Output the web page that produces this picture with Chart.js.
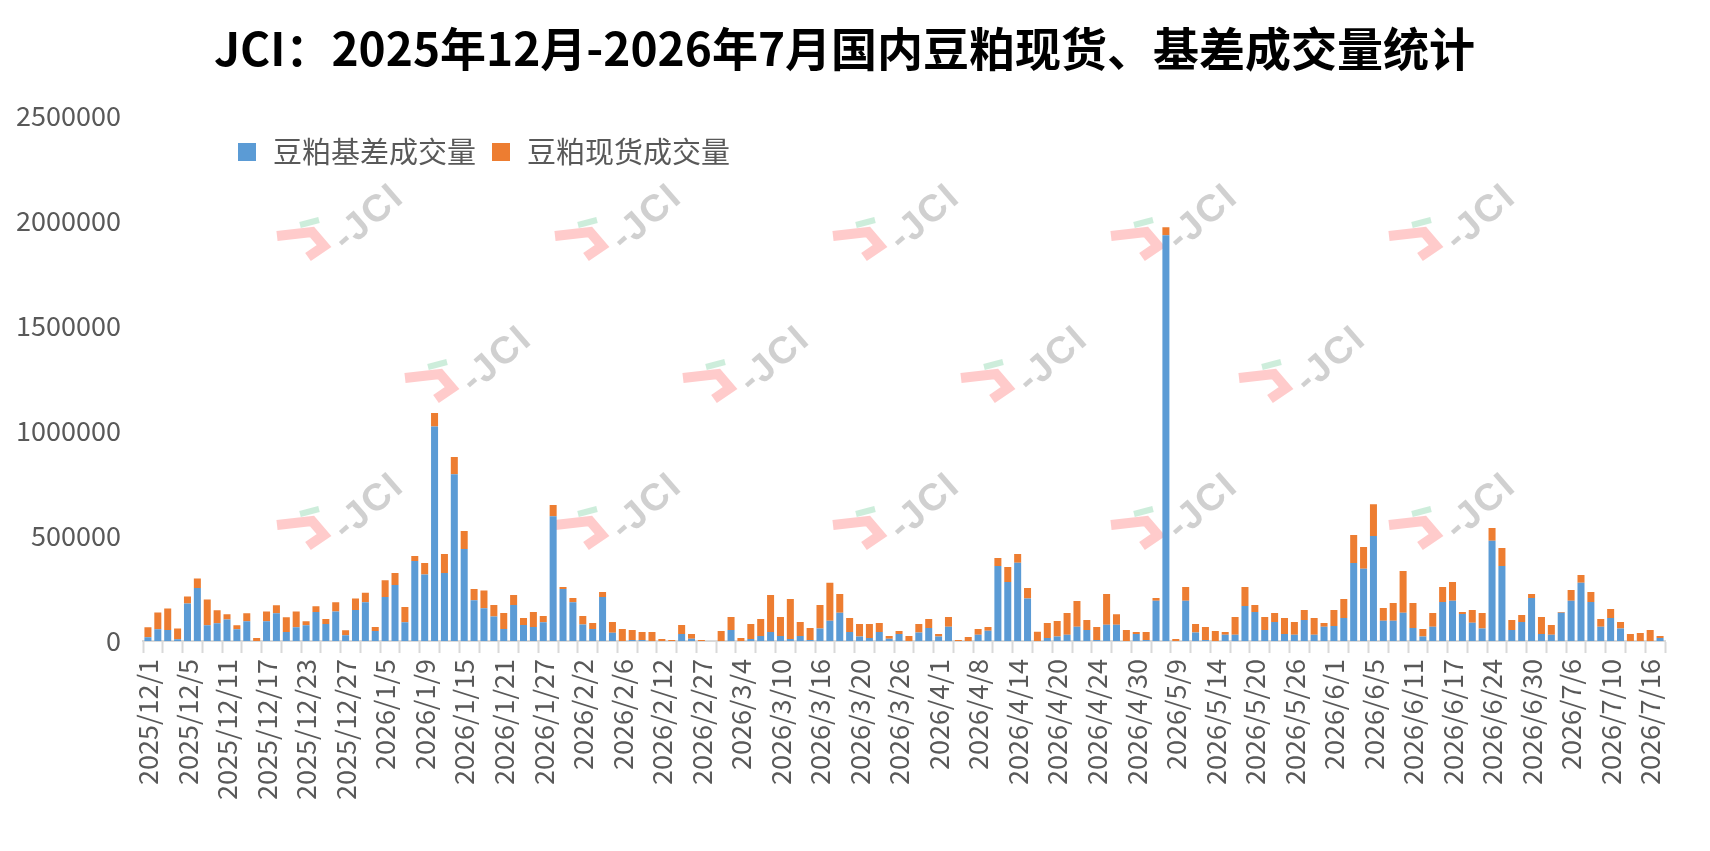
<!DOCTYPE html>
<html>
<head>
<meta charset="utf-8">
<script src="https://cdn.jsdelivr.net/npm/chart.js@4.4.1/dist/chart.umd.min.js"></script>
<style>
    html, body { margin: 0; padding: 0; background: #fff; }
    #wrap { width: 1710px; height: 851px; position: relative; }
</style>
</head>
<body>
<div id="wrap"><canvas id="chart"></canvas></div>
<script>
// Trading days, Dec 2025 - Jul 2026 (every 4th one is labelled on the axis)
const categories = [
    '2025/12/1', '2025/12/2', '2025/12/3', '2025/12/4', '2025/12/5', '2025/12/8', '2025/12/9', '2025/12/10', '2025/12/11', '2025/12/12',
    '2025/12/15', '2025/12/16', '2025/12/17', '2025/12/18', '2025/12/19', '2025/12/22', '2025/12/23', '2025/12/24', '2025/12/25', '2025/12/26',
    '2025/12/27', '2025/12/29', '2025/12/30', '2025/12/31', '2026/1/5', '2026/1/6', '2026/1/7', '2026/1/8', '2026/1/9', '2026/1/12',
    '2026/1/13', '2026/1/14', '2026/1/15', '2026/1/16', '2026/1/19', '2026/1/20', '2026/1/21', '2026/1/22', '2026/1/23', '2026/1/26',
    '2026/1/27', '2026/1/28', '2026/1/29', '2026/1/30', '2026/2/2', '2026/2/3', '2026/2/4', '2026/2/5', '2026/2/6', '2026/2/9',
    '2026/2/10', '2026/2/11', '2026/2/12', '2026/2/13', '2026/2/25', '2026/2/26', '2026/2/27', '2026/2/28', '2026/3/2', '2026/3/3',
    '2026/3/4', '2026/3/5', '2026/3/6', '2026/3/9', '2026/3/10', '2026/3/11', '2026/3/12', '2026/3/13', '2026/3/16', '2026/3/17',
    '2026/3/18', '2026/3/19', '2026/3/20', '2026/3/23', '2026/3/24', '2026/3/25', '2026/3/26', '2026/3/27', '2026/3/30', '2026/3/31',
    '2026/4/1', '2026/4/2', '2026/4/3', '2026/4/7', '2026/4/8', '2026/4/9', '2026/4/10', '2026/4/13', '2026/4/14', '2026/4/15',
    '2026/4/16', '2026/4/17', '2026/4/20', '2026/4/21', '2026/4/22', '2026/4/23', '2026/4/24', '2026/4/27', '2026/4/28', '2026/4/29',
    '2026/4/30', '2026/5/6', '2026/5/7', '2026/5/8', '2026/5/9', '2026/5/11', '2026/5/12', '2026/5/13', '2026/5/14', '2026/5/15',
    '2026/5/18', '2026/5/19', '2026/5/20', '2026/5/21', '2026/5/22', '2026/5/25', '2026/5/26', '2026/5/27', '2026/5/28', '2026/5/29',
    '2026/6/1', '2026/6/2', '2026/6/3', '2026/6/4', '2026/6/5', '2026/6/8', '2026/6/9', '2026/6/10', '2026/6/11', '2026/6/12',
    '2026/6/15', '2026/6/16', '2026/6/17', '2026/6/18', '2026/6/22', '2026/6/23', '2026/6/24', '2026/6/25', '2026/6/26', '2026/6/29',
    '2026/6/30', '2026/7/1', '2026/7/2', '2026/7/3', '2026/7/6', '2026/7/7', '2026/7/8', '2026/7/9', '2026/7/10', '2026/7/13',
    '2026/7/14', '2026/7/15', '2026/7/16', '2026/7/17'
];

// 豆粕基差成交量 (tons)
const basisVolume = [
    17500, 56000, 52000, 8000, 179000, 252000, 75000, 84000, 103000, 56000,
    94000, 0, 94000, 132000, 43000, 65000, 75000, 138000, 81000, 141000,
    27000, 148000, 184000, 48000, 210000, 267000, 89000, 381000, 317000, 1022000,
    324000, 794000, 438000, 194000, 156000, 117000, 57000, 171000, 76000, 67000,
    89000, 594000, 248000, 184000, 79000, 57000, 210000, 39000, 0, 5000,
    5000, 0, 0, 0, 33000, 11000, 0, 0, 0, 52000,
    0, 9500, 24000, 43000, 24000, 9500, 24000, 5000, 59000, 97000,
    135000, 43000, 21000, 14000, 43000, 11000, 33000, 0, 40000, 62000,
    21000, 68000, 0, 0, 30000, 49000, 357000, 281000, 373000, 202000,
    0, 14000, 21000, 30000, 68000, 52000, 5000, 78000, 78000, 0,
    33000, 5000, 192000, 1933000, 0, 192000, 40000, 5000, 0, 30000,
    30000, 167000, 138000, 52000, 91000, 33000, 30000, 100000, 30000, 68000,
    71000, 110000, 371000, 344000, 500000, 97000, 97000, 135000, 62000, 21000,
    68000, 186000, 192000, 129000, 87000, 59000, 478000, 357000, 52000, 91000,
    205000, 33000, 30000, 135000, 192000, 278000, 186000, 68000, 110000, 59000,
    0, 0, 0, 14000
];

// 豆粕现货成交量 (tons)
const spotVolume = [
    47500, 80000, 103000, 52000, 33000, 46000, 123000, 62000, 24000, 19000,
    38000, 14000, 47000, 38000, 70000, 76000, 19000, 27000, 24000, 43000,
    24000, 55000, 46000, 19000, 79000, 57000, 73000, 24000, 54000, 64000,
    90000, 82000, 86000, 54000, 85000, 54000, 76000, 48000, 33000, 71000,
    30000, 54000, 9000, 21000, 40000, 29000, 24000, 51000, 57000, 47000,
    38000, 43000, 9500, 5000, 43000, 22000, 5000, 0, 48000, 62000,
    14000, 71500, 81000, 176000, 90000, 190000, 66000, 57000, 112000, 181000,
    89000, 66000, 60000, 67000, 43000, 13000, 15000, 24000, 41000, 43000,
    12000, 46000, 5000, 19000, 27000, 18000, 38000, 71000, 41000, 50000,
    44000, 72000, 74000, 103000, 122000, 48000, 62000, 146000, 50000, 52000,
    10000, 38000, 13000, 38000, 9500, 65000, 41000, 62000, 48000, 13000,
    84000, 90000, 33000, 62000, 42000, 76000, 60000, 48000, 80000, 18000,
    77000, 90000, 134000, 104000, 152000, 60000, 84000, 198000, 119000, 36000,
    65000, 71000, 89000, 9500, 61000, 74000, 60000, 86000, 48000, 33000,
    19000, 81000, 46000, 3000, 51000, 36000, 47000, 37000, 42000, 31500,
    33000, 38000, 52000, 10000
];

const seriesNames = ['豆粕基差成交量', '豆粕现货成交量'];
const yMax = 2500000;
const yStep = 500000;
const labelEvery = 4;

const FONT = '"Noto Sans CJK SC", "Noto Sans", sans-serif';
const TEXT_GRAY = '#595959';
const AXIS_GRAY = '#d9d9d9';

// Title is centred over the whole picture, not over the padded box
const titleShift = {
    id: 'titleShift',
    afterLayout(chart, args, opts) {
        if (chart.titleBlock) {
            chart.titleBlock.left += opts.dx;
            chart.titleBlock.right += opts.dx;
        }
    }
};

// Legend drawn inside the plot, top-left
const insideLegend = {
    id: 'insideLegend',
    afterDraw(chart, args, opts) {
        const ctx = chart.ctx;
        ctx.save();
        ctx.font = `${opts.fontSize}px ${FONT}`;
        ctx.textBaseline = 'middle';
        ctx.textAlign = 'left';
        let x = opts.x;
        chart.data.datasets.forEach(ds => {
            ctx.fillStyle = ds.backgroundColor;
            ctx.fillRect(x, opts.y - opts.box / 2, opts.box, opts.box);
            x += opts.box + opts.gap;
            ctx.fillStyle = TEXT_GRAY;
            ctx.fillText(ds.label, x, opts.y);
            x += ctx.measureText(ds.label).width + opts.itemGap;
        });
        ctx.restore();
    }
};

// JCI watermark logos behind the bars
const watermark = {
    id: 'watermark',
    beforeDatasetsDraw(chart, args, opts) {
        const ctx = chart.ctx;
        opts.spots.forEach(([cx, cy]) => {
            ctx.save();
            ctx.translate(cx, cy);
            ctx.lineJoin = 'miter';
            ctx.lineCap = 'butt';
            ctx.strokeStyle = 'rgba(255, 190, 190, 0.8)';
            ctx.lineWidth = 10;
            ctx.beginPath();
            ctx.moveTo(-92, 18);
            ctx.lineTo(-57, 14);
            ctx.lineTo(-45, 28);
            ctx.lineTo(-61, 39);
            ctx.stroke();
            ctx.strokeStyle = 'rgba(200, 235, 215, 0.9)';
            ctx.lineWidth = 6;
            ctx.beginPath();
            ctx.moveTo(-69, 7);
            ctx.lineTo(-50, 2);
            ctx.stroke();
            ctx.rotate(-41 * Math.PI / 180);
            ctx.fillStyle = 'rgba(200, 200, 200, 0.85)';
            ctx.font = 'bold 38px "Liberation Sans", sans-serif';
            ctx.letterSpacing = '2px';
            ctx.textAlign = 'center';
            ctx.textBaseline = 'middle';
            ctx.fillText('-JCI', 0, 0);
            ctx.restore();
        });
    }
};

new Chart(document.getElementById('chart'), {
    type: 'bar',
    data: {
        labels: categories,
        datasets: [
            {
                label: seriesNames[0],
                data: basisVolume,
                backgroundColor: '#5B9BD5',
                borderWidth: 0,
                barPercentage: 0.71,
                categoryPercentage: 1.0
            },
            {
                label: seriesNames[1],
                data: spotVolume,
                backgroundColor: '#ED7D31',
                borderWidth: 0,
                barPercentage: 0.71,
                categoryPercentage: 1.0
            }
        ]
    },
    options: {
        responsive: true,
        maintainAspectRatio: false,
        animation: false,
        devicePixelRatio: 1,
        layout: {
            padding: { left: 0, right: 45, top: 0, bottom: 0 }
        },
        plugins: {
            legend: { display: false },
            tooltip: { enabled: false },
            title: {
                display: true,
                text: 'JCI：2025年12月-2026年7月国内豆粕现货、基差成交量统计',
                color: '#000',
                font: { family: FONT, size: 46, weight: 'bold', lineHeight: 1.2 },
                padding: { top: 21, bottom: 40 }
            },
            titleShift: { dx: 12 },
            insideLegend: { x: 238, y: 152, box: 18, gap: 17, itemGap: 16, fontSize: 29 },
            watermark: {
                spots: [
                    [369, 218], [647, 218], [925, 218], [1203, 218], [1481, 218],
                    [497, 360], [775, 360], [1053, 360], [1331, 360],
                    [369, 507], [647, 507], [925, 507], [1203, 507], [1481, 507]
                ]
            }
        },
        scales: {
            x: {
                stacked: true,
                afterFit(scale) { scale.height = 210; },
                grid: {
                    display: true,
                    offset: true,
                    drawOnChartArea: false,
                    drawTicks: true,
                    tickLength: 12,
                    tickWidth: 2,
                    tickColor: ctx => (ctx.index === undefined || ctx.index % 2 === 0) ? AXIS_GRAY : 'rgba(0,0,0,0)'
                },
                border: { display: true, color: AXIS_GRAY, width: 2 },
                ticks: {
                    autoSkip: false,
                    minRotation: 90,
                    maxRotation: 90,
                    padding: 6,
                    color: TEXT_GRAY,
                    font: { family: FONT, size: 27 },
                    callback: function(value, index) {
                        return index % labelEvery === 0 ? this.getLabelForValue(value) : '';
                    }
                }
            },
            y: {
                stacked: true,
                min: 0,
                max: yMax,
                afterFit(scale) { scale.width = 143; },
                grid: { display: false, drawTicks: false },
                border: { display: false },
                ticks: {
                    stepSize: yStep,
                    padding: 22,
                    color: TEXT_GRAY,
                    font: { family: FONT, size: 27 },
                    callback: value => String(value)
                }
            }
        }
    },
    plugins: [titleShift, watermark, insideLegend]
});
</script>
</body>
</html>
